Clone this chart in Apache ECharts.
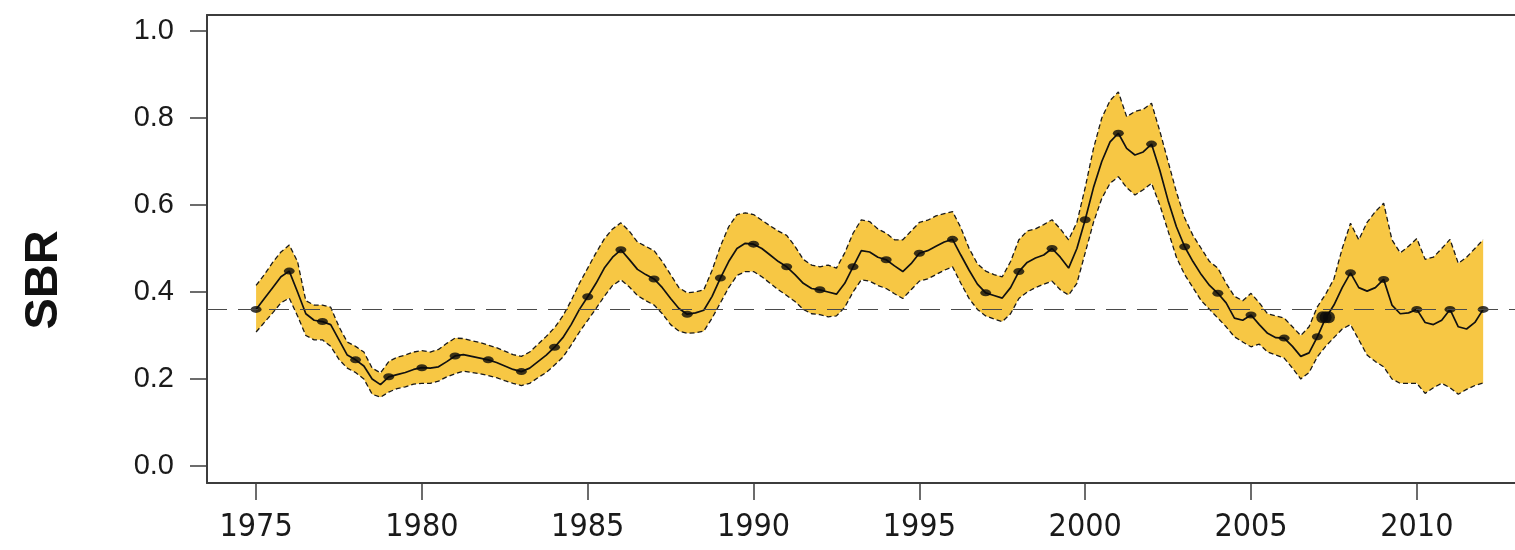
<!DOCTYPE html>
<html>
<head>
<meta charset="utf-8">
<script src="https://cdn.jsdelivr.net/npm/echarts@6/dist/echarts.min.js"></script>
<style>
html,body{margin:0;padding:0;background:#ffffff;}
#chart{width:1515px;height:550px;}
</style>
</head>
<body>
<div id="chart"></div>
<script>
// ---- data ----
const years = [
1975.00,1975.25,1975.50,1975.75,1976.00,1976.25,1976.50,1976.75,
1977.00,1977.25,1977.50,1977.75,1978.00,1978.25,1978.50,1978.75,
1979.00,1979.25,1979.50,1979.75,1980.00,1980.25,1980.50,1980.75,
1981.00,1981.25,1981.50,1981.75,1982.00,1982.25,1982.50,1982.75,
1983.00,1983.25,1983.50,1983.75,1984.00,1984.25,1984.50,1984.75,
1985.00,1985.25,1985.50,1985.75,1986.00,1986.25,1986.50,1986.75,
1987.00,1987.25,1987.50,1987.75,1988.00,1988.25,1988.50,1988.75,
1989.00,1989.25,1989.50,1989.75,1990.00,1990.25,1990.50,1990.75,
1991.00,1991.25,1991.50,1991.75,1992.00,1992.25,1992.50,1992.75,
1993.00,1993.25,1993.50,1993.75,1994.00,1994.25,1994.50,1994.75,
1995.00,1995.25,1995.50,1995.75,1996.00,1996.25,1996.50,1996.75,
1997.00,1997.25,1997.50,1997.75,1998.00,1998.25,1998.50,1998.75,
1999.00,1999.25,1999.50,1999.75,2000.00,2000.25,2000.50,2000.75,
2001.00,2001.25,2001.50,2001.75,2002.00,2002.25,2002.50,2002.75,
2003.00,2003.25,2003.50,2003.75,2004.00,2004.25,2004.50,2004.75,
2005.00,2005.25,2005.50,2005.75,2006.00,2006.25,2006.50,2006.75,
2007.00,2007.25,2007.50,2007.75,2008.00,2008.25,2008.50,2008.75,
2009.00,2009.25,2009.50,2009.75,2010.00,2010.25,2010.50,2010.75,
2011.00,2011.25,2011.50,2011.75,2012.00
];
const sbrMean = [
0.360,0.385,0.410,0.435,0.448,0.400,0.350,0.335,
0.332,0.325,0.290,0.255,0.244,0.230,0.200,0.187,
0.205,0.210,0.215,0.222,0.226,0.225,0.228,0.240,
0.253,0.256,0.252,0.248,0.244,0.238,0.230,0.222,
0.217,0.225,0.240,0.255,0.273,0.295,0.325,0.360,
0.389,0.420,0.455,0.480,0.497,0.475,0.452,0.440,
0.430,0.410,0.385,0.362,0.349,0.352,0.358,0.390,
0.432,0.470,0.500,0.512,0.510,0.500,0.485,0.470,
0.458,0.440,0.420,0.408,0.405,0.400,0.395,0.420,
0.458,0.495,0.492,0.480,0.474,0.460,0.447,0.465,
0.489,0.495,0.505,0.515,0.521,0.485,0.450,0.418,
0.398,0.392,0.386,0.410,0.447,0.468,0.478,0.485,
0.500,0.480,0.455,0.500,0.566,0.640,0.700,0.745,
0.765,0.730,0.715,0.722,0.740,0.680,0.610,0.550,
0.504,0.470,0.440,0.415,0.397,0.375,0.340,0.335,
0.347,0.325,0.305,0.295,0.294,0.275,0.252,0.260,
0.297,0.340,0.370,0.410,0.444,0.410,0.402,0.410,
0.429,0.370,0.350,0.352,0.360,0.330,0.325,0.335,
0.360,0.320,0.315,0.330,0.360
];
const sbrUpper = [
0.415,0.440,0.468,0.492,0.508,0.470,0.380,0.370,
0.370,0.365,0.320,0.285,0.275,0.262,0.225,0.214,
0.240,0.250,0.255,0.262,0.265,0.262,0.268,0.282,
0.294,0.293,0.288,0.284,0.278,0.272,0.264,0.256,
0.252,0.262,0.280,0.298,0.318,0.345,0.380,0.420,
0.455,0.490,0.522,0.545,0.559,0.540,0.515,0.505,
0.495,0.470,0.440,0.410,0.398,0.400,0.405,0.450,
0.505,0.550,0.578,0.582,0.578,0.565,0.552,0.540,
0.530,0.505,0.475,0.462,0.458,0.462,0.455,0.490,
0.535,0.566,0.562,0.545,0.535,0.520,0.520,0.540,
0.560,0.565,0.575,0.580,0.585,0.548,0.500,0.465,
0.448,0.440,0.435,0.470,0.520,0.540,0.545,0.555,
0.566,0.545,0.520,0.560,0.640,0.730,0.800,0.840,
0.860,0.803,0.815,0.820,0.834,0.770,0.700,0.630,
0.570,0.530,0.500,0.470,0.455,0.420,0.390,0.380,
0.397,0.375,0.350,0.345,0.340,0.320,0.300,0.320,
0.366,0.395,0.430,0.500,0.558,0.520,0.560,0.585,
0.604,0.520,0.490,0.505,0.523,0.475,0.480,0.500,
0.521,0.466,0.480,0.500,0.520
];
const sbrLower = [
0.308,0.330,0.352,0.375,0.386,0.345,0.300,0.290,
0.290,0.275,0.245,0.225,0.215,0.200,0.165,0.158,
0.170,0.178,0.182,0.188,0.190,0.190,0.195,0.205,
0.212,0.218,0.215,0.212,0.208,0.203,0.196,0.190,
0.185,0.190,0.203,0.215,0.232,0.250,0.278,0.308,
0.335,0.362,0.390,0.415,0.428,0.412,0.392,0.380,
0.370,0.350,0.325,0.310,0.305,0.306,0.310,0.340,
0.375,0.410,0.438,0.447,0.447,0.435,0.420,0.405,
0.392,0.378,0.360,0.350,0.348,0.343,0.345,0.365,
0.400,0.428,0.425,0.415,0.408,0.396,0.385,0.405,
0.425,0.430,0.440,0.450,0.458,0.420,0.385,0.360,
0.345,0.338,0.332,0.350,0.385,0.400,0.410,0.418,
0.425,0.405,0.393,0.420,0.490,0.560,0.615,0.650,
0.665,0.640,0.623,0.635,0.650,0.600,0.540,0.480,
0.440,0.410,0.380,0.360,0.340,0.320,0.297,0.285,
0.274,0.280,0.262,0.255,0.248,0.225,0.200,0.215,
0.251,0.275,0.295,0.315,0.325,0.290,0.255,0.240,
0.228,0.200,0.190,0.190,0.190,0.167,0.180,0.190,
0.180,0.165,0.176,0.185,0.191
];
// cluster of estimates drawn as a larger blob in 2007
const blobYears = [2007.15, 2007.25, 2007.35];
const blobValues = [0.342, 0.342, 0.342];
const referenceSBR = 0.36;
const xTickYears = [1975, 1980, 1985, 1990, 1995, 2000, 2005, 2010];
const yTickValues = [0.0, 0.2, 0.4, 0.6, 0.8, 1.0];
const yTitle = 'SBR';

// ---- build series data ----
const pairs = (xs, ys) => xs.map((x, i) => [x, ys[i]]);
const meanData = pairs(years, sbrMean);
const upperData = pairs(years, sbrUpper);
const lowerData = pairs(years, sbrLower);
const bandData = years.map((x, i) => [x, sbrLower[i], sbrUpper[i]]);
const yearMarks = meanData.filter(p => Math.abs(p[0] - Math.round(p[0])) < 1e-9);
const blobData = pairs(blobYears, blobValues);

const AX = '#3c3c3c';
const FONT = '"Liberation Sans", Arial, sans-serif';
const chart = echarts.init(document.getElementById('chart'), null, {renderer: 'canvas'});
chart.setOption({
  animation: false,
  backgroundColor: '#ffffff',
  grid: {left: 207, top: 15, right: 0, bottom: 67, containLabel: false},
  xAxis: [{
    type: 'value', min: 1973.52, max: 2012.96,
    axisLine: {show: true, onZero: false, lineStyle: {color: AX, width: 2}},
    axisTick: {show: true, length: 17, inside: false, customValues: xTickYears, lineStyle: {color: AX, width: 1.5}},
    axisLabel: {show: true, customValues: xTickYears, margin: 29, fontSize: 32, color: '#1a1a1a',
      fontFamily: '"Liberation Sans Narrow", "DejaVu Sans Condensed", Arial, sans-serif',
      formatter: v => String(Math.round(v))},
    splitLine: {show: false}
  }, {
    type: 'value', position: 'top', min: 1973.52, max: 2012.96,
    axisLine: {show: true, onZero: false, lineStyle: {color: AX, width: 2}},
    axisTick: {show: false}, axisLabel: {show: false}, splitLine: {show: false}
  }],
  yAxis: {
    type: 'value', min: -0.0391, max: 1.0368,
    axisLine: {show: true, onZero: false, lineStyle: {color: AX, width: 2}},
    axisTick: {show: true, length: 17, inside: false, customValues: yTickValues, lineStyle: {color: AX, width: 1.5}},
    axisLabel: {show: true, customValues: yTickValues, margin: 33, fontSize: 29, color: '#1a1a1a',
      fontFamily: FONT, formatter: v => v.toFixed(1)},
    splitLine: {show: false}
  },
  graphic: [{
    type: 'text', x: 44, y: 280, rotation: Math.PI / 2,
    style: {text: yTitle, font: 'bold 47px "Liberation Sans", Arial, sans-serif', fill: '#111',
      textAlign: 'center', textVerticalAlign: 'middle'}
  }],
  series: [
    {
      name: 'band', type: 'custom', data: bandData, encode: {x: 0, y: [1, 2]}, silent: true, z: 1, clip: true,
      renderItem: function (params, api) {
        if (params.dataIndex !== 0) return null;
        const pts = [];
        for (let i = 0; i < bandData.length; i++) pts.push(api.coord([bandData[i][0], bandData[i][2]]));
        for (let i = bandData.length - 1; i >= 0; i--) pts.push(api.coord([bandData[i][0], bandData[i][1]]));
        return {type: 'polygon', shape: {points: pts}, style: {fill: '#F7C744', stroke: null}};
      }
    },
    {
      name: 'upper', type: 'line', data: upperData, symbol: 'none',
      lineStyle: {color: '#1a1a1a', width: 1.3, type: [5, 3]}, z: 2,
      markLine: {
        silent: true, symbol: 'none', label: {show: false},
        lineStyle: {color: '#4a4a4a', width: 1.2, type: [20, 11]},
        data: [{yAxis: referenceSBR}]
      }
    },
    {
      name: 'lower', type: 'line', data: lowerData, symbol: 'none',
      lineStyle: {color: '#1a1a1a', width: 1.3, type: [5, 3]}, z: 2
    },
    {
      name: 'mean', type: 'line', data: meanData, symbol: 'none',
      lineStyle: {color: '#111', width: 1.7}, z: 3
    },
    {
      name: 'yearly', type: 'scatter', data: yearMarks, symbol: 'circle',
      symbolSize: [11, 7], itemStyle: {color: '#0a0a0a'}, z: 4
    },
    {
      name: 'blob', type: 'scatter', data: blobData, symbol: 'circle',
      symbolSize: [12, 12], itemStyle: {color: '#0a0a0a'}, z: 4
    }
  ]
});
</script>
</body>
</html>
